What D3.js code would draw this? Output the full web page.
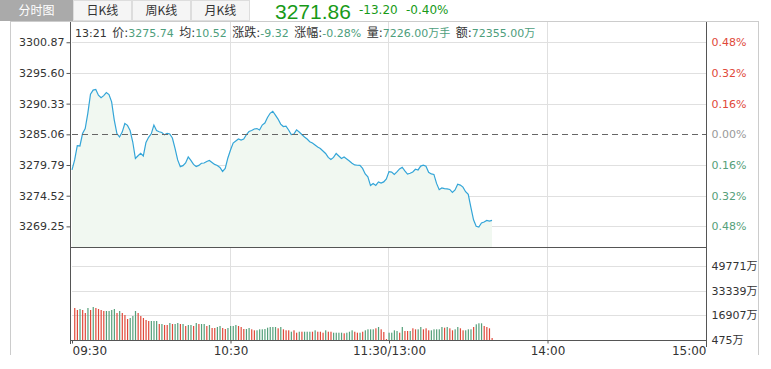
<!DOCTYPE html>
<html>
<head>
<meta charset="utf-8">
<script src="https://cdn.jsdelivr.net/npm/d3@7/dist/d3.min.js"></script>
<style>
  body { margin: 0; background: #fff; }
  svg { display: block; }
</style>
</head>
<body>
<div class="chart"></div>
<script>
// chart data
var tabs = ["分时图", "日K线", "周K线", "月K线"];
var lastPrice = "3271.86";
var change = ["-13.20", "-0.40%"];
var infoTime = "13:21";
var infoLabels = ["价:", "均:", "涨跌:", "涨幅:", "量:", "额:"];
var infoValues = ["3275.74", "10.52", "-9.32", "-0.28%", "7226.00万手", "72355.00万"];

var prevClose = 3285.06;
var priceTicks = [3300.87, 3295.60, 3290.33, 3285.06, 3279.79, 3274.52, 3269.25];
var pctTicks = ["0.48%", "0.32%", "0.16%", "0.00%", "0.16%", "0.32%", "0.48%"];
var volTicks = [49771, 33339, 16907, 475];
var timeTicks = [0, 60, 120, 180, 240];
var timeLabels = ["09:30", "10:30", "11:30/13:00", "14:00", "15:00"];

// one price per minute from 09:30
var prices = [
  3278.94, 3280.66, 3283.11, 3283.06, 3285.20, 3286.05, 3288.71, 3291.96, 3292.65, 3292.77,
  3291.79, 3291.36, 3291.71, 3292.22, 3291.88, 3290.64, 3287.51, 3285.20, 3284.60, 3285.45,
  3286.91, 3286.60, 3285.71, 3283.74, 3280.91, 3281.38, 3281.81, 3281.34, 3283.66, 3284.55,
  3285.15, 3286.65, 3285.71, 3285.51, 3285.37, 3284.97, 3285.23, 3285.11, 3284.43, 3282.63,
  3280.66, 3279.51, 3279.68, 3280.14, 3281.17, 3280.57, 3279.89, 3279.54, 3279.72, 3280.09,
  3280.14, 3280.40, 3280.57, 3280.23, 3279.89, 3279.72, 3279.37, 3278.69, 3279.20, 3281.00,
  3282.37, 3283.57, 3283.91, 3284.25, 3284.08, 3284.25, 3284.99, 3285.54, 3285.71, 3285.97,
  3286.05, 3285.80, 3286.65, 3287.00, 3287.94, 3288.67, 3289.02, 3288.37, 3287.68, 3286.82,
  3286.40, 3286.45, 3285.80, 3285.03, 3285.11, 3285.83, 3285.45, 3285.03, 3284.60, 3284.25,
  3283.79, 3283.57, 3283.23, 3282.88, 3282.63, 3282.20, 3281.77, 3281.09, 3280.74, 3281.09,
  3281.77, 3281.34, 3280.91, 3281.17, 3280.83, 3280.49, 3280.09, 3279.80, 3279.75, 3279.72,
  3279.20, 3278.26, 3277.75, 3276.26, 3276.63, 3276.29, 3276.89, 3276.68, 3276.89, 3277.40,
  3278.65, 3278.57, 3278.17, 3278.60, 3279.12, 3279.41, 3278.77, 3278.23, 3278.38, 3278.60,
  3279.06, 3278.94, 3279.60, 3279.75, 3279.58, 3278.53, 3278.26, 3278.17, 3276.63, 3275.55,
  3275.86, 3275.74, 3275.69, 3275.59, 3275.09, 3275.52, 3276.50, 3276.34, 3276.00, 3275.21,
  3274.75, 3272.52, 3270.38, 3269.27, 3269.15, 3269.83, 3270.00, 3270.26, 3270.16, 3270.29
];

// volume bars, minute 1 onwards (万)
var volumes = [
  21793, 20461, 21127, 20461, 18462, 21793, 20461, 22459, 21793, 21127,
  20461, 19795, 19795, 19795, 20461, 21127, 18462, 19795, 18462, 17130,
  14465, 15131, 16464, 19795, 18462, 16464, 15131, 13799, 13133, 13133,
  13133, 13133, 11134, 11134, 10468, 10468, 11800, 11134, 11134, 11800,
  11134, 11134, 9802, 10468, 10468, 9802, 11800, 11134, 11134, 11134,
  9802, 10468, 8469, 8469, 9136, 9802, 8469, 7803, 8469, 9802,
  9802, 10468, 9802, 9136, 7803, 7803, 8469,
  7600, 6930, 6930, 7600, 7600, 7800, 8670, 9135, 9135, 9135,
  8270, 9135, 7600, 6930, 6930, 6000, 6930, 5340, 6000, 6000,
  6000, 6000, 6000, 6000, 6930, 6000, 6000, 5340, 6930, 6000,
  6000, 5340, 5340, 5340, 5340, 4930, 5340, 6000, 6930, 6000,
  5340, 5340, 6000, 6930, 7600, 7600, 7600, 8270, 9135, 7600,
  5800, 1100, 5340, 5340, 6930, 6470, 5340, 9135, 6470, 6470,
  6470, 8270, 7600, 7600, 9135, 7600, 8270, 6930, 6930, 7600,
  7600, 7600, 9135, 8670, 9135, 8270, 6930, 7600, 9135, 8270,
  6930, 6930, 7600, 7600, 9135, 10930, 11600, 11600, 9800, 9135,
  8270, 1800
];
// 1 = red bar, 0 = green bar
var volUp = [
  1,1,0,1,1,0,1,0,1,1, 1,1,0,0,0,0,1,0,1,1, 1,0,0,0,1,1,1,1,1,0,
  0,0,1,0,1,1,0,1,0,0, 1,0,1,0,0,1,0,1,0,0, 1,0,1,1,0,0,1,1,0,0,
  0,0,1,1,1,0,0,
  1,1,0,0,0,0,0,0,0,0, 1,0,1,1,1,0,1,1,0,1, 0,0,0,1,0,1,1,1,0,1,
  1,0,0,0,0,1,0,0,0,1, 1,0,1,0,0,0,0,1,0,1, 1,1,0,0,0,0,1,0,1,1,
  0,1,1,0,0,1,1,1,0,0, 0,0,0,1,0,1,1,0,0,1, 1,0,0,0,1,0,0,0,1,1,
  1,1
];

var W = 771, H = 369;
var left = 72, right = 706;
var priceTop = 22, priceBottom = 247, volBottom = 340;
var red = "#e0493a", green = "#55a07a";
var numFont = "Tahoma, 'DejaVu Sans', 'Noto Sans CJK SC', sans-serif";

var svg = d3.select(".chart")
  .append("svg")
  .attr("width", W)
  .attr("height", H)
  .attr("font-family", numFont);

var x = d3.scaleLinear().domain([0, 240]).range([left, right]);
var y = d3.scaleLinear().domain([3265.71, 3304.35]).range([priceBottom, priceTop]);
var yv = d3.scaleLinear().domain([475, 62430]).range([volBottom, priceBottom]);

// tabs
var tabX = [0, 73, 132, 191], tabW = [73, 59, 59, 59];
svg.selectAll(".tab")
  .data(tabs)
  .enter()
  .append("rect")
  .attr("x", function(d, i){ return tabX[i] + 0.5; })
  .attr("y", 0.5)
  .attr("width", function(d, i){ return tabW[i] - 1; })
  .attr("height", 20)
  .attr("fill", function(d, i){ return i == 0 ? "#aaaaaa" : "#f5f5f5"; })
  .attr("stroke", function(d, i){ return i == 0 ? "#aaaaaa" : "#dddddd"; });
svg.selectAll(".tabtext")
  .data(tabs)
  .enter()
  .append("text")
  .attr("x", function(d, i){ return tabX[i] + tabW[i] / 2; })
  .attr("y", 15)
  .attr("text-anchor", "middle")
  .attr("font-size", "12px")
  .attr("font-family", "'Noto Sans CJK SC', sans-serif")
  .attr("fill", function(d, i){ return i == 0 ? "#fff" : "#333"; })
  .text(function(d){ return d; });

// header price
svg.append("text")
  .attr("x", 275).attr("y", 19)
  .attr("font-size", "21px")
  .attr("font-family", "'Liberation Sans', Arial, sans-serif")
  .attr("fill", "#189a18")
  .text(lastPrice);
svg.selectAll(".chg")
  .data(change)
  .enter()
  .append("text")
  .attr("x", function(d, i){ return [359, 406][i]; })
  .attr("y", 14)
  .attr("font-size", "12px")
  .attr("font-family", "'DejaVu Sans', sans-serif")
  .attr("fill", "#189a18")
  .text(function(d){ return d; });

// frame
svg.append("line").attr("x1", 10).attr("x2", 759).attr("y1", 21.5).attr("y2", 21.5).attr("stroke", "#cccccc");
svg.append("line").attr("x1", 10.5).attr("x2", 10.5).attr("y1", 21.5).attr("y2", 355).attr("stroke", "#cccccc");
svg.append("line").attr("x1", 758.5).attr("x2", 758.5).attr("y1", 21.5).attr("y2", 355).attr("stroke", "#cccccc");

// grid
svg.selectAll(".pgrid")
  .data(priceTicks.filter(function(d){ return d != prevClose; }))
  .enter()
  .append("line")
  .attr("x1", left).attr("x2", right)
  .attr("y1", function(d){ return Math.round(y(d)) + 0.5; })
  .attr("y2", function(d){ return Math.round(y(d)) + 0.5; })
  .attr("stroke", "#e0e0e0");
svg.selectAll(".vgrid")
  .data(volTicks.slice(0, 3))
  .enter()
  .append("line")
  .attr("x1", left).attr("x2", right)
  .attr("y1", function(d){ return Math.round(yv(d)) + 0.5; })
  .attr("y2", function(d){ return Math.round(yv(d)) + 0.5; })
  .attr("stroke", "#e0e0e0");
svg.selectAll(".tgrid")
  .data(timeTicks.slice(1, 4))
  .enter()
  .append("line")
  .attr("x1", function(d){ return Math.round(x(d)) - 0.5; })
  .attr("x2", function(d){ return Math.round(x(d)) - 0.5; })
  .attr("y1", priceTop).attr("y2", volBottom)
  .attr("stroke", "#e0e0e0");

// price area and line
var area = d3.area()
  .x(function(d, i){ return x(i); })
  .y0(priceBottom)
  .y1(function(d){ return y(d); });
var line = d3.line()
  .x(function(d, i){ return x(i); })
  .y(function(d){ return y(d); });
svg.append("path").datum(prices).attr("d", area).attr("fill", "#f1f8f1");
svg.append("path").datum(prices).attr("d", line)
  .attr("fill", "none").attr("stroke", "#33a5d8").attr("stroke-width", 1.2);

// previous close
svg.append("line")
  .attr("x1", left).attr("x2", right)
  .attr("y1", Math.round(y(prevClose)) + 0.5).attr("y2", Math.round(y(prevClose)) + 0.5)
  .attr("stroke", "#666").attr("stroke-dasharray", "6,4");

// volume bars
svg.selectAll(".vol")
  .data(volumes)
  .enter()
  .append("rect")
  .attr("x", function(d, i){ return x(i + 1) - 0.5; })
  .attr("y", function(d){ return yv(d); })
  .attr("width", 1.2)
  .attr("height", function(d){ return volBottom - yv(d); })
  .attr("fill", function(d, i){ return volUp[i] ? red : green; });

// panel lines
svg.append("line").attr("x1", 70).attr("x2", right + 1).attr("y1", priceBottom + 0.5).attr("y2", priceBottom + 0.5).attr("stroke", "#555");
svg.append("line").attr("x1", 70).attr("x2", right + 1).attr("y1", volBottom + 0.5).attr("y2", volBottom + 0.5).attr("stroke", "#555");
svg.append("line").attr("x1", 70.5).attr("x2", 70.5).attr("y1", priceTop).attr("y2", 344).attr("stroke", "#555");
svg.append("line").attr("x1", right + 0.5).attr("x2", right + 0.5).attr("y1", priceTop).attr("y2", 347).attr("stroke", "#555");

// axes
var yAxis = svg.append("g")
  .attr("transform", "translate(70.5,0)")
  .call(d3.axisLeft(y).tickValues(priceTicks).tickFormat(d3.format(".2f")).tickSize(4).tickSizeOuter(0).tickPadding(2));
var pctAxis = svg.append("g")
  .attr("transform", "translate(706.5,0)")
  .call(d3.axisRight(y).tickValues(priceTicks).tickFormat(function(d, i){ return pctTicks[i]; }).tickSize(0).tickPadding(5));
var volAxis = svg.append("g")
  .attr("transform", "translate(706.5,0)")
  .call(d3.axisRight(yv).tickValues(volTicks).tickFormat(function(d){ return d + "万"; }).tickSize(0).tickPadding(5));
var xAxis = svg.append("g")
  .attr("transform", "translate(0,340.5)")
  .call(d3.axisBottom(x).tickValues(timeTicks).tickFormat(function(d, i){ return timeLabels[i]; }).tickSize(3).tickSizeOuter(0).tickPadding(3));

[yAxis, pctAxis, volAxis, xAxis].forEach(function(g){
  g.select(".domain").remove();
  g.selectAll("line").attr("stroke", "#555");
  g.selectAll("text")
    .attr("font-size", "11px")
    .attr("font-family", numFont)
    .attr("fill", "#333");
});
pctAxis.selectAll("text")
  .attr("fill", function(d, i){ return i < 3 ? red : (i == 3 ? "#999" : green); });
xAxis.selectAll("text")
  .attr("font-size", "12px")
  .attr("text-anchor", function(d, i){ return i == 0 ? "start" : (i == 4 ? "end" : "middle"); });

// info line
var info = svg.append("text")
  .attr("x", 75).attr("y", 37)
  .attr("font-size", "11px")
  .attr("word-spacing", "2px")
  .attr("fill", "#333");
info.append("tspan").text(infoTime + " ");
infoLabels.forEach(function(l, i){
  info.append("tspan").attr("font-size", "12px").text(l);
  info.append("tspan").attr("fill", "#4e9e7c").text(infoValues[i] + (i < infoLabels.length - 1 ? " " : ""));
});
</script>
</body>
</html>
